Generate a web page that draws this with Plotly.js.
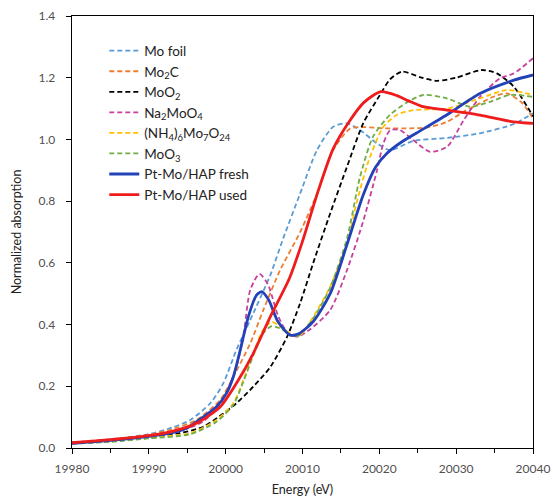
<!DOCTYPE html>
<html>
<head>
<meta charset="utf-8">
<script src="https://cdn.plot.ly/plotly-3.0.1.min.js"></script>
<style>html,body{margin:0;padding:0;background:#fff;}#chart{width:553px;height:497px;}</style>
</head>
<body>
<div id="chart"></div>
<script>
// Mo foil
const moFoilE = [19980, 19985, 19990, 19993, 19995.4, 19998, 19999.7, 20001.4, 20003.2, 20005.8, 20007.5, 20009.7, 20011.9, 20014, 20015.8, 20017.5, 20019.7, 20021.4, 20024.4, 20028.8, 20033.1, 20037.5, 20040];
const moFoilV = [0.018, 0.028, 0.045, 0.066, 0.091, 0.145, 0.21, 0.318, 0.415, 0.56, 0.68, 0.825, 0.966, 1.041, 1.052, 1.03, 0.987, 0.965, 0.995, 1.005, 1.02, 1.05, 1.085];
// Mo2C
const mo2cE = [19980, 19985, 19990, 19993, 19996.2, 19999.3, 20001, 20003.2, 20004.9, 20007.1, 20009.7, 20011.9, 20014, 20016.2, 20018, 20020.5, 20024, 20026.5, 20028.8, 20031, 20033.1, 20035, 20036.6, 20038.5, 20040];
const mo2cV = [0.017, 0.027, 0.043, 0.06, 0.091, 0.156, 0.231, 0.339, 0.447, 0.577, 0.7, 0.825, 0.966, 1.035, 1.04, 1.036, 1.036, 1.04, 1.057, 1.09, 1.117, 1.14, 1.149, 1.12, 1.068];
// MoO2
const moo2E = [19980, 19985, 19990, 19994, 19997.1, 19999.7, 20001.4, 20003.6, 20005.8, 20008, 20009.7, 20011.4, 20013.6, 20015.8, 20017.9, 20020.1, 20021.4, 20023, 20025.5, 20027.5, 20030, 20033.3, 20035.3, 20037.5, 20040];
const moo2V = [0.015, 0.022, 0.033, 0.048, 0.069, 0.112, 0.145, 0.199, 0.262, 0.361, 0.47, 0.6, 0.76, 0.912, 1.052, 1.145, 1.195, 1.22, 1.2, 1.19, 1.2, 1.225, 1.214, 1.171, 1.075];
// Na2MoO4
const namoE = [19980, 19985, 19990, 19994, 19997, 19999.5, 20001.4, 20002.3, 20003.2, 20004.4, 20005.5, 20006.8, 20008, 20009.3, 20011, 20013.6, 20015.8, 20017.9, 20019.7, 20020.5, 20021.4, 20022.7, 20024.4, 20026.6, 20028.8, 20031, 20033.1, 20035.7, 20037.5, 20040];
const namoV = [0.015, 0.024, 0.038, 0.056, 0.085, 0.15, 0.263, 0.361, 0.512, 0.564, 0.53, 0.43, 0.375, 0.361, 0.385, 0.447, 0.577, 0.735, 0.9, 0.985, 1.03, 1.03, 0.998, 0.96, 0.976, 1.063, 1.138, 1.198, 1.214, 1.263];
// (NH4)6Mo7O24
const ahmE = [19980, 19985, 19990, 19995.4, 19998.8, 20001, 20002.3, 20003.6, 20004.8, 20006, 20007.3, 20008.5, 20009.7, 20011.4, 20013.6, 20015.8, 20017.1, 20018.6, 20020.5, 20022.3, 20024.4, 20028.8, 20033.1, 20036.6, 20040];
const ahmV = [0.015, 0.022, 0.034, 0.048, 0.091, 0.145, 0.22, 0.307, 0.38, 0.409, 0.39, 0.37, 0.366, 0.425, 0.523, 0.663, 0.8, 0.93, 1.04, 1.08, 1.095, 1.1, 1.133, 1.16, 1.144];
// MoO3
const moo3E = [19980, 19985, 19990, 19995.4, 19998.8, 20001, 20002.3, 20003.6, 20004.8, 20006, 20007.3, 20008.5, 20009.3, 20011.4, 20013.6, 20015.8, 20017.5, 20019.2, 20021.4, 20023.6, 20025.7, 20028.8, 20031.8, 20034.4, 20037, 20040];
const moo3V = [0.014, 0.02, 0.031, 0.045, 0.085, 0.14, 0.215, 0.3, 0.37, 0.395, 0.385, 0.365, 0.361, 0.42, 0.52, 0.68, 0.88, 1.01, 1.08, 1.12, 1.144, 1.133, 1.106, 1.122, 1.144, 1.138];
// Pt-Mo/HAP fresh
const freshE = [19980, 19985, 19990, 19992.8, 19995, 19997.1, 19998.8, 20000.1, 20001, 20001.9, 20003, 20004, 20004.7, 20005.6, 20006.8, 20008.4, 20009.5, 20011.4, 20013.6, 20015.8, 20017.9, 20019.5, 20021, 20022.8, 20024.8, 20028.8, 20033.1, 20037.5, 20040];
const freshV = [0.015, 0.025, 0.038, 0.048, 0.065, 0.101, 0.134, 0.177, 0.231, 0.318, 0.43, 0.495, 0.507, 0.48, 0.41, 0.366, 0.37, 0.41, 0.5, 0.66, 0.82, 0.91, 0.955, 0.99, 1.02, 1.08, 1.149, 1.192, 1.209];
// Pt-Mo/HAP used
const usedE = [19980, 19985, 19990, 19992.8, 19996.2, 19999.3, 20001.4, 20003.6, 20005.8, 20008.3, 20010, 20012, 20014, 20016, 20018, 20020.2, 20022.3, 20023.8, 20025.7, 20028.8, 20033.1, 20037.5, 20040];
const usedV = [0.017, 0.027, 0.04, 0.052, 0.08, 0.134, 0.21, 0.307, 0.425, 0.55, 0.67, 0.83, 0.97, 1.055, 1.12, 1.155, 1.142, 1.125, 1.106, 1.095, 1.079, 1.057, 1.052];

const names = ['Mo foil', 'Mo<sub>2</sub>C', 'MoO<sub>2</sub>', 'Na<sub>2</sub>MoO<sub>4</sub>',
  '(NH<sub>4</sub>)<sub>6</sub>Mo<sub>7</sub>O<sub>24</sub>', 'MoO<sub>3</sub>', 'Pt-Mo/HAP fresh', 'Pt-Mo/HAP used'];
const xs = [moFoilE, mo2cE, moo2E, namoE, ahmE, moo3E, freshE, usedE];
const ys = [moFoilV, mo2cV, moo2V, namoV, ahmV, moo3V, freshV, usedV];
const colors = ['#5B9BD5', '#ED7D31', '#000000', '#C8409E', '#FFC000', '#70AD47', '#2342B8', '#EE1C1C'];
const dashed = [true, true, true, true, true, true, false, false];

const data = names.map((n, i) => ({
  x: xs[i], y: ys[i], name: n, type: 'scatter', mode: 'lines',
  line: {color: colors[i], width: dashed[i] ? 1.8 : 2.8, dash: dashed[i] ? '5px,3px' : 'solid', shape: 'spline', smoothing: 0.7}
}));

const layout = {
  width: 553, height: 497,
  margin: {l: 72, r: 20, t: 16, b: 49},
  paper_bgcolor: '#fff', plot_bgcolor: '#fff',
  font: {family: 'Lato, "Open Sans", sans-serif', size: 12, color: '#505050'},
  showlegend: true,
  legend: {x: 0.07, y: 0.955, xanchor: 'left', yanchor: 'top', bgcolor: 'rgba(0,0,0,0)',
    font: {size: 13.5, color: '#222'}, tracegroupgap: 0, itemwidth: 30},
  xaxis: {range: [19980, 20040], dtick: 10, tick0: 19980, tickformat: 'd',
    showline: true, linecolor: '#000', linewidth: 1.3, mirror: true,
    ticks: 'outside', ticklen: 5, tickcolor: '#000', showgrid: false, zeroline: false,
    ticklabelstandoff: 4,
    minor: {dtick: 5, ticks: 'outside', ticklen: 4, tickcolor: '#000', showgrid: false},
    title: {text: 'Energy (eV)', font: {size: 12.5, color: '#222'}, standoff: 10}},
  yaxis: {range: [0, 1.4], dtick: 0.2, tickformat: '.1f',
    showline: true, linecolor: '#000', linewidth: 1.3, mirror: true,
    ticks: 'outside', ticklen: 5, tickcolor: '#000', showgrid: false, zeroline: false,
    ticklabelstandoff: 8,
    title: {text: 'Normalized absorption', font: {size: 12.5, color: '#222'}, standoff: 14}}
};
Plotly.newPlot('chart', data, layout, {displayModeBar: false, staticPlot: true});
</script>
</body>
</html>
